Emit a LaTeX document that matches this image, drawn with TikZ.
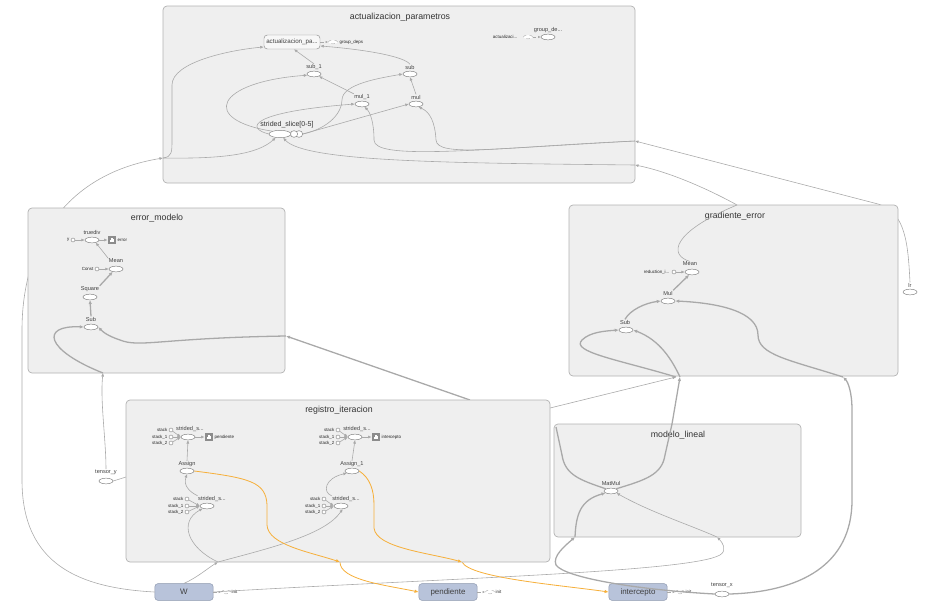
\documentclass[tikz,border=0pt]{standalone}
\usepackage{fontspec}
\setmainfont{Liberation Sans}
\usetikzlibrary{shapes.geometric,arrows.meta,positioning}

\definecolor{boxfill}{HTML}{EFEFEF}
\definecolor{boxline}{HTML}{B2B2B2}
\definecolor{edgegray}{HTML}{A9A9A9}
\definecolor{refedge}{HTML}{F6B03C}
\definecolor{varfill}{HTML}{B8C3DA}
\definecolor{varline}{HTML}{8A95AC}
\definecolor{sumfill}{HTML}{8C8C8C}

\tikzset{
  cluster/.style={draw=boxline,fill=boxfill,rounded corners=1.2mm,line width=.6pt},
  ctitle/.style={font=\fontsize{7.5}{9}\selectfont,text=black!80},
  lbl/.style={font=\fontsize{4.8}{5.5}\selectfont,text=black!75,inner sep=.3pt},
  tinytxt/.style={font=\fontsize{3.8}{4.5}\selectfont,text=black!85,inner sep=.3pt},
  op/.style={ellipse,draw=black!50,fill=white,line width=.4pt,minimum width=4.2mm,minimum height=1.7mm,inner sep=0pt},
  const/.style={circle,draw=black!50,fill=white,line width=.35pt,minimum size=1.2mm,inner sep=0pt},
  initop/.style={ellipse,draw=edgegray,dashed,fill=white,line width=.35pt,minimum width=2.8mm,minimum height=1.1mm,inner sep=0pt},
  grp/.style={draw=black!45,fill=gray!6,rounded corners=1mm,minimum width=16.8mm,minimum height=4.2mm,inner sep=0pt,font=\fontsize{5.3}{6}\selectfont,text=black!75},
  var/.style={draw=varline,fill=varfill,rounded corners=.9mm,minimum width=17.5mm,minimum height=5mm,inner sep=0pt,font=\fontsize{6.8}{8}\selectfont,text=black!75},
  summ/.style={rectangle,fill=sumfill,minimum size=2.5mm,inner sep=0pt,
    path picture={\fill[white] ([xshift=-.75mm,yshift=-.7mm]path picture bounding box.center) rectangle ++(.35mm,.7mm);
      \fill[white] ([xshift=-.2mm,yshift=-.7mm]path picture bounding box.center) rectangle ++(.35mm,1.3mm);
      \fill[white] ([xshift=.35mm,yshift=-.7mm]path picture bounding box.center) rectangle ++(.35mm,1mm);}},
  wire/.style={draw=edgegray,line width=.5pt},
  flow/.style={wire,-{Latex[length=3pt,width=2.6pt]}},
  heavywire/.style={draw=edgegray,line width=1.1pt},
  heavyflow/.style={heavywire,-{Latex[length=3.4pt,width=3pt]}},
  refflow/.style={draw=refedge,line width=.7pt,-{Latex[length=3.4pt,width=3pt]}},
  ctrl/.style={draw=edgegray,dashed,line width=.4pt,-{Latex[length=2.2pt,width=2pt]}},
}

\begin{document}
\begin{tikzpicture}[x=0.03cm,y=-0.03cm]
  \useasboundingbox (0,0) rectangle (926,609);

  % nodes outside the clusters
  \node[var] (W) at (184,592) {W};
  \node[var] (pend) at (448,592) {pendiente};
  \node[var] (inter) at (638,592) {intercepto};
  \node[initop] (W-init) at (226,592) {};
  \node[tinytxt,anchor=west] at (231,592) {init};
  \node[initop] (pend-init) at (490,592) {};
  \node[tinytxt,anchor=west] at (495,592) {init};
  \node[initop] (inter-init) at (680,592) {};
  \node[tinytxt,anchor=west] at (685,592) {init};
  \draw[ctrl] (W) -- (W-init);
  \draw[ctrl] (pend) -- (pend-init);
  \draw[ctrl] (inter) -- (inter-init);

  \node[op] (tx) at (722,594) {};
  \node[lbl] (tx-l) at (722,585) {tensor\_x};
  \node[op] (ty) at (106,481) {};
  \node[lbl] (ty-l) at (106,472) {tensor\_y};
  \node[op] (lr) at (910,292) {};
  \node[lbl] (lr-l) at (910,285) {lr};

  % where edges cross the cluster borders
  \coordinate (apL) at (163,158);
  \coordinate (apR1) at (635,141);
  \coordinate (apR2) at (635,165);
  \coordinate (emB) at (103,373);
  \coordinate (emR) at (286,336);
  \coordinate (geT1) at (737,205);
  \coordinate (geT2) at (878,204);
  \coordinate (geB1) at (676,377);
  \coordinate (geB2) at (680,377);
  \coordinate (geB3) at (843,377);
  \coordinate (riL) at (126,477);
  \coordinate (riR) at (550,408);
  \coordinate (riT) at (470,400);
  \coordinate (riB0) at (218,562);
  \coordinate (riB1) at (340,562);
  \coordinate (riB2) at (462,562);
  \coordinate (mlT) at (672,424);
  \coordinate (mlL) at (556,427);
  \coordinate (mlB1) at (575,537);
  \coordinate (mlB2) at (717,537);

  % edges between the clusters
  \draw[flow] (W.west) .. controls (80,588) and (22,565) .. (22,480) -- (22,330) .. controls (22,250) and (60,175) .. (apL);
  \draw[flow] (lr-l.north) .. controls (908,245) and (906,212) .. (geT2) -- (apR1);
  \draw[flow] (geT1) .. controls (710,190) and (670,172) .. (apR2);
  \draw[flow] (ty-l.north) .. controls (106,440) and (100,400) .. (emB);
  \draw[wire] (ty.east) -- (riL);
  \draw[flow] (riR) -- (geB1);
  \draw[heavyflow] (riT) -- (emR);
  \draw[heavyflow] (mlT) -- (geB2);
  \draw[heavyflow] (tx.east) .. controls (800,592) and (852,565) .. (852,500) -- (852,410) .. controls (852,392) and (848,382) .. (geB3);
  \draw[flow] (W.east) .. controls (450,578) and (690,572) .. (720,555) .. controls (728,550) and (722,542) .. (mlB2);
  \draw[heavyflow] (tx.west) .. controls (640,590) and (565,578) .. (556,565) .. controls (552,556) and (566,545) .. (mlB1);
  \draw[flow] (W.north) .. controls (198,577) and (208,568) .. (riB0);
  \draw[refflow] (riB1) .. controls (340,580) and (385,585) .. (pend.west);
  \draw[refflow] (riB2) .. controls (470,578) and (560,585) .. (inter.west);

  % clusters
  \draw[cluster] (163,6) rectangle (635,183);
  \draw[cluster] (28,208) rectangle (285,373);
  \draw[cluster] (569,205) rectangle (898,376);
  \draw[cluster] (126,400) rectangle (550,562);
  \draw[cluster] (554,424) rectangle (801,537);
  \node[ctitle] (ap-t) at (400,17) {actualizacion\_parametros};
  \node[ctitle] (em-t) at (157,218) {error\_modelo};
  \node[ctitle] (ge-t) at (735,216) {gradiente\_error};
  \node[ctitle] (ri-t) at (339,410) {registro\_iteracion};
  \node[ctitle] (ml-t) at (678,435) {modelo\_lineal};

  % actualizacion_parametros
  \node[grp] (apgrp) at (292,42) {actualizacion\_pa...};
  \node[initop] (gdeps) at (333,42) {};
  \node[tinytxt,anchor=west] (gdeps-l) at (339,42) {group\_deps};
  \draw[ctrl] (apgrp) -- (gdeps);
  \node[tinytxt,anchor=east] (act-l) at (518,37) {actualizaci...};
  \node[initop] (act) at (528,37) {};
  \node[op] (gdx) at (548,37) {};
  \node[lbl] (gdx-l) at (548,30) {group\_de...};
  \draw[ctrl] (act) -- (gdx);

  \node[op] (s1) at (314,74) {};
  \node[lbl] (s1-l) at (314,67) {sub\_1};
  \node[op] (sb) at (410,74) {};
  \node[lbl] (sb-l) at (410,67) {sub};
  \node[op] (m1) at (362,104) {};
  \node[lbl] (m1-l) at (362,97) {mul\_1};
  \node[op] (mu) at (416,104) {};
  \node[lbl] (mu-l) at (416,97) {mul};
  \node[op,minimum width=2.2mm,minimum height=2mm] (slice-c) at (299,134) {};
  \node[op,minimum width=2.2mm,minimum height=2mm] (slice-b) at (294,134) {};
  \node[op,minimum width=6.6mm,minimum height=2.2mm] (slice) at (280,134) {};
  \node[font=\fontsize{6}{7}\selectfont,text=black!80] (slice-l) at (287,125) {strided\_slice[0-5]};

  \draw[flow] (apL) .. controls (172,157) and (172,152) .. (172,140) -- (172,85) .. controls (172,62) and (230,50) .. (apgrp.190);
  \draw[flow] (apL) .. controls (225,159) and (258,154) .. (slice.220);
  \draw[flow] (s1-l.north) -- (apgrp.-75);
  \draw[flow] (sb-l.north) .. controls (405,57) and (370,50) .. (apgrp.-8);
  \draw[flow] (slice.160) .. controls (200,120) and (215,82) .. (s1.190);
  \draw[flow] (slice.west) .. controls (245,128) and (250,112) .. (m1.west);
  \draw[flow] (slice-c.east) .. controls (330,128) and (342,112) .. (342,100) .. controls (342,84) and (380,78) .. (sb.west);
  \draw[flow] (slice-c.east) -- (mu.west);
  \draw[flow] (m1-l.north west) -- (s1.-25);
  \draw[flow] (mu-l.north) -- (sb.south);
  \draw[flow] (apR1) .. controls (500,147) and (437,158) .. (436,140) .. controls (435,122) and (430,112) .. (mu.-50);
  \draw[flow] (apR1) .. controls (470,150) and (374,160) .. (374,140) .. controls (374,122) and (370,112) .. (m1.-50);
  \draw[flow] (apR2) .. controls (450,163) and (305,162) .. (slice.-50);

  % error_modelo
  \node[const] (yc) at (73,240) {};
  \node[tinytxt,anchor=east] (yc-l) at (70,240) {y};
  \node[op] (etd) at (92,240) {};
  \node[lbl] (etd-l) at (92,232) {truediv};
  \node[summ] (esum) at (112,240) {};
  \node[tinytxt,anchor=west] (esum-l) at (117,240) {error};
  \node[const] (ec) at (97,269) {};
  \node[tinytxt,anchor=east] (ec-l) at (94,269) {Const};
  \node[op] (emean) at (116,269) {};
  \node[lbl] (emean-l) at (116,261) {Mean};
  \node[op] (esq) at (90,297) {};
  \node[lbl] (esq-l) at (90,289) {Square};
  \node[op] (esub) at (91,327) {};
  \node[lbl] (esub-l) at (91,319) {Sub};

  \draw[flow] (yc) -- (etd);
  \draw[flow] (etd) -- (esum);
  \draw[flow] (ec) -- (emean);
  \draw[flow] (emean-l.north west) -- (etd.-35);
  \draw[heavyflow] (esq-l.north east) -- (emean.-140);
  \draw[heavyflow] (esub-l.north) -- (esq.south);
  \draw[heavyflow] (emB) .. controls (45,350) and (40,325) .. (esub.west);
  \draw[heavyflow] (emR) .. controls (160,338) and (140,348) .. (120,340) .. controls (108,336) and (103,332) .. (esub.east);

  % gradiente_error
  \node[const] (rc) at (674,272) {};
  \node[tinytxt,anchor=east] (rc-l) at (670,272) {reduction\_i...};
  \node[op] (gmean) at (692,272) {};
  \node[lbl] (gmean-l) at (690,264) {Mean};
  \node[op] (gmul) at (668,301) {};
  \node[lbl] (gmul-l) at (668,293) {Mul};
  \node[op] (gsub) at (626,330) {};
  \node[lbl] (gsub-l) at (625,322) {Sub};

  \draw[flow] (rc) -- (gmean);
  \draw[heavyflow] (gmul-l.north east) -- (gmean.-135);
  \draw[heavyflow] (gsub-l.north) .. controls (630,310) and (645,303) .. (gmul.west);
  \draw[heavyflow] (geB1) .. controls (620,360) and (570,352) .. (582,340) .. controls (590,332) and (605,331) .. (gsub.west);
  \draw[heavyflow] (geB2) .. controls (672,360) and (660,340) .. (gsub.east);
  \draw[heavyflow] (geB3) .. controls (790,360) and (758,355) .. (758,335) .. controls (758,312) and (720,303) .. (gmul.east);
  \draw[wire] (gmean-l.north) .. controls (668,255) and (672,232) .. (geT1);

  % modelo_lineal
  \node[op] (mm) at (611,491) {};
  \node[lbl] (mm-l) at (611,483) {MatMul};
  \draw[heavywire] (mm.north east) .. controls (645,480) and (662,475) .. (665,455) -- (mlT);
  \draw[heavywire] (mm.north west) .. controls (580,480) and (565,475) .. (562,455) -- (mlL);
  \draw[heavyflow] (mlB1) .. controls (576,515) and (580,500) .. (mm.-160);
  \draw[flow] (mlB2) .. controls (690,525) and (650,512) .. (mm.-20);

  % registro_iteracion, pendiente
  \node[const] (st1a) at (171,430) {};
  \node[tinytxt,anchor=east] at (168,430) {stack};
  \node[const] (st1b) at (171,437) {};
  \node[tinytxt,anchor=east] at (168,437) {stack\_1};
  \node[const] (st1c) at (171,443) {};
  \node[tinytxt,anchor=east] at (168,443) {stack\_2};
  \node[op] (ss1) at (188,437) {};
  \node[lbl] (ss1-l) at (190,429) {strided\_s...};
  \node[summ] (sum1) at (209,437) {};
  \node[tinytxt,anchor=west] (sum1-l) at (214,437) {pendiente};
  \node[op] (as1) at (187,471) {};
  \node[lbl] (as1-l) at (187,464) {Assign};
  \node[const] (st3a) at (187,499) {};
  \node[tinytxt,anchor=east] at (184,499) {stack};
  \node[const] (st3b) at (187,506) {};
  \node[tinytxt,anchor=east] at (184,506) {stack\_1};
  \node[const] (st3c) at (187,512) {};
  \node[tinytxt,anchor=east] at (184,512) {stack\_2};
  \node[op] (ss3) at (207,506) {};
  \node[lbl] (ss3-l) at (212,499) {strided\_s...};

  % registro_iteracion, intercepto
  \node[const] (st2a) at (338,430) {};
  \node[tinytxt,anchor=east] at (335,430) {stack};
  \node[const] (st2b) at (338,437) {};
  \node[tinytxt,anchor=east] at (335,437) {stack\_1};
  \node[const] (st2c) at (338,443) {};
  \node[tinytxt,anchor=east] at (335,443) {stack\_2};
  \node[op] (ss2) at (355,437) {};
  \node[lbl] (ss2-l) at (357,429) {strided\_s...};
  \node[summ] (sum2) at (376,437) {};
  \node[tinytxt,anchor=west] (sum2-l) at (381,437) {intercepto};
  \node[op] (as2) at (352,471) {};
  \node[lbl] (as2-l) at (352,464) {Assign\_1};
  \node[const] (st4a) at (324,499) {};
  \node[tinytxt,anchor=east] at (321,499) {stack};
  \node[const] (st4b) at (324,506) {};
  \node[tinytxt,anchor=east] at (321,506) {stack\_1};
  \node[const] (st4c) at (324,512) {};
  \node[tinytxt,anchor=east] at (321,512) {stack\_2};
  \node[op] (ss4) at (341,506) {};
  \node[lbl] (ss4-l) at (346,499) {strided\_s...};

  \draw[flow] (st1a) -- (ss1.west);
  \draw[flow] (st1b) -- (ss1.west);
  \draw[flow] (st1c) -- (ss1.west);
  \draw[flow] (st3a) -- (ss3.west);
  \draw[flow] (st3b) -- (ss3.west);
  \draw[flow] (st3c) -- (ss3.west);
  \draw[flow] (st2a) -- (ss2.west);
  \draw[flow] (st2b) -- (ss2.west);
  \draw[flow] (st2c) -- (ss2.west);
  \draw[flow] (st4a) -- (ss4.west);
  \draw[flow] (st4b) -- (ss4.west);
  \draw[flow] (st4c) -- (ss4.west);
  \draw[flow] (ss1) -- (sum1);
  \draw[flow] (ss2) -- (sum2);
  \draw[flow] (as1-l.north) -- (ss1.south);
  \draw[flow] (as2-l.north) -- (ss2.south);
  \draw[flow] (ss3-l.north west) .. controls (190,492) and (183,486) .. (as1.south);
  \draw[flow] (ss4-l.north west) .. controls (322,492) and (325,478) .. (as2.south west);
  \draw[flow] (riB0) .. controls (188,548) and (178,522) .. (ss3.-150);
  \draw[flow] (riB0) .. controls (270,548) and (325,535) .. (ss4.-60);
  \draw[refflow] (as1.east) .. controls (250,478) and (266,482) .. (267,505) -- (267,525) .. controls (268,545) and (310,552) .. (riB1);
  \draw[refflow] (as2.east) .. controls (370,478) and (374,490) .. (374,505) -- (374,528) .. controls (376,548) and (430,553) .. (riB2);
\end{tikzpicture}
\end{document}
